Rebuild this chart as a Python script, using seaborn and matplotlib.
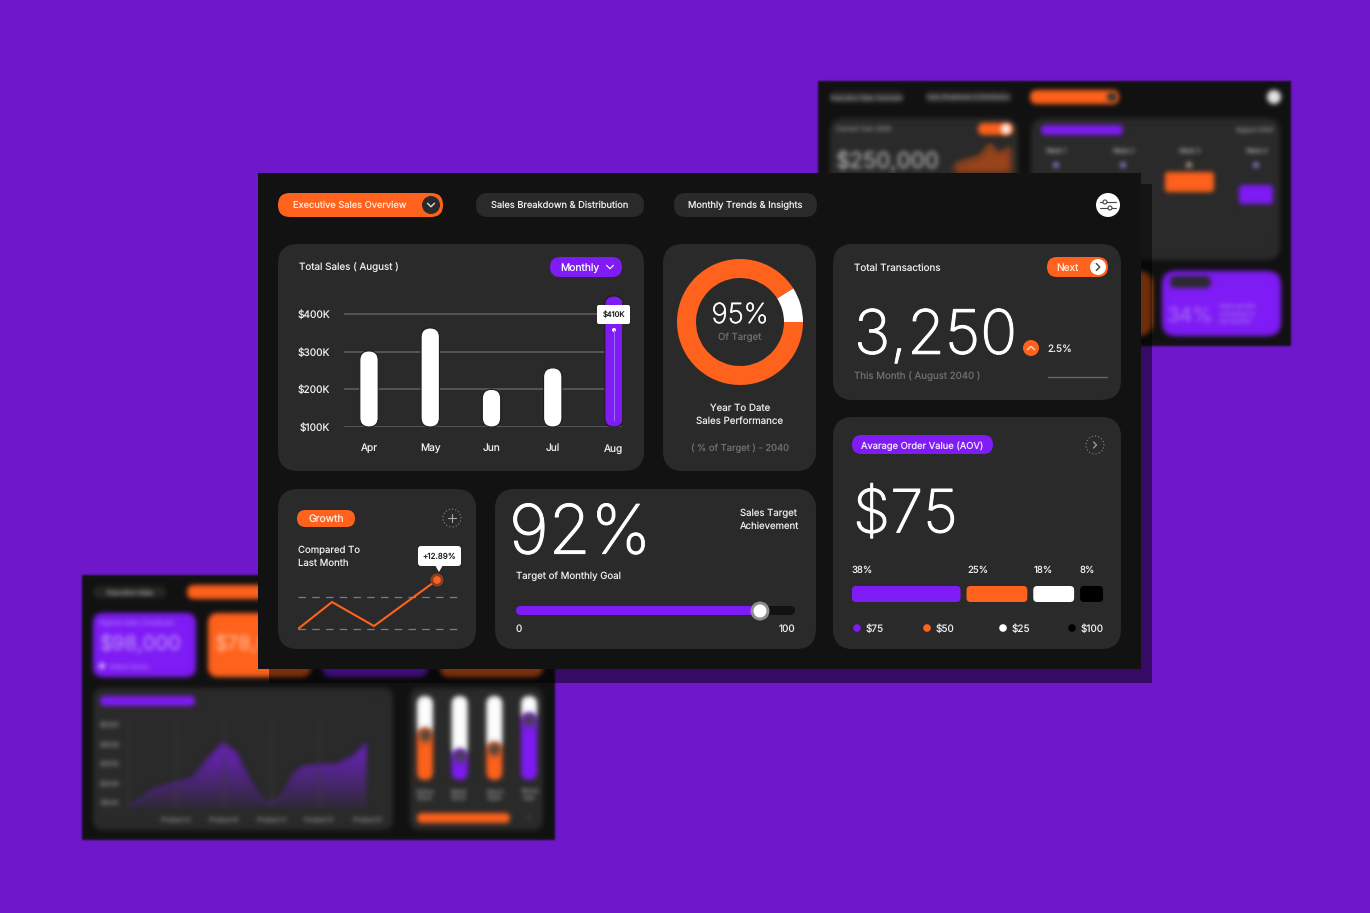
import numpy as np
import matplotlib
matplotlib.use("Agg")
import matplotlib.pyplot as plt
import matplotlib.patheffects as pe
import seaborn as sns
from matplotlib.patches import Circle, FancyBboxPatch, Polygon, Rectangle

W, H = 1370, 913

BG = "#6f18cb"
PANEL = "#121212"
CARD = "#2a2a2a"
ORANGE = "#ff621c"
PURPLE = "#7f1bf5"
LIGHT = "#ececec"
GREY = "#6f6f6f"

# total sales card
months = ["Apr", "May", "Jun", "Jul", "Aug"]
sales_k = [302, 363, 200, 257, 448]
sales_ticks = [100, 200, 300, 400]
sales_tick_labels = ["$100K", "$200K", "$300K", "$400K"]

# year to date donut
donut_values = [9, 91]

# growth card
growth_x = [0, 34, 76, 139]
growth_y = [0, 8.4, 0.9, 15.3]

# monthly goal slider
goal_value = [87.5]

# average order value card
aov_labels = ["38%", "25%", "18%", "8%"]
aov_lengths = [109, 61, 41, 23]
aov_legend = ["$75", "$50", "$25", "$100"]
aov_colors = [PURPLE, ORANGE, "#ffffff", "#000000"]

# blurred panel, lower left
product_x = [0.04, 0.53, 0.97, 1.37, 1.65, 1.99, 2.27, 2.55, 2.80, 2.99, 3.25, 3.46, 3.67, 3.99, 4.37, 4.71, 4.99]
product_y = [81, 167, 201, 227, 320, 406, 355, 209, 115, 93, 141, 244, 286, 295, 298, 337, 406]
product_labels = ["", "Product A", "Product B", "Product C", "Product D", "Product E"]
product_ticks = [100, 200, 300, 400, 500]
slider_names = ["Q1", "Q2", "Q3", "Q4"]
slider_values = [62, 37, 45, 80]
slider_rest = [46, 71, 63, 28]
slider_colors = [ORANGE, PURPLE, ORANGE, PURPLE]

# blurred panel, upper right
trend_x = [0.08, 1.3, 2.2, 3.05, 3.7, 4.75]
trend_y = [6, 10.4, 13, 23.4, 14.7, 20.8]

sns.set_theme(style="dark")
plt.rcParams["font.family"] = ["Inter", "DejaVu Sans"]
plt.rcParams["text.hinting"] = "no_hinting"
plt.rcParams["text.hinting_factor"] = 1

fig = plt.figure(figsize=(W / 100, H / 100), dpi=100, facecolor=BG)


def pixel_axes(z):
    ax = fig.add_axes([0, 0, 1, 1], facecolor="none", zorder=z)
    ax.set_xlim(0, W)
    ax.set_ylim(H, 0)
    ax.set_axis_off()
    return ax


def inset(x0, y0, x1, y1, z):
    ax = fig.add_axes([x0 / W, 1 - y1 / H, (x1 - x0) / W, (y1 - y0) / H], facecolor="none", zorder=z)
    return ax


def gauss_blur(sigma):
    pad = int(3 * sigma) + 1
    offsets = np.arange(-pad, pad + 1)
    weights = np.exp(-0.5 * (offsets / sigma) ** 2)
    weights = weights / weights.sum()

    def run(img, dpi):
        out = np.pad(img, ((pad, pad), (pad, pad), (0, 0)))
        alpha = out[..., 3:4]
        out = np.concatenate([out[..., :3] * alpha, alpha], axis=2)
        for axis in (0, 1):
            out = sum(w * np.roll(out, o, axis=axis) for o, w in zip(offsets, weights))
        alpha = np.maximum(out[..., 3:4], 1e-4)
        out = np.concatenate([out[..., :3] / alpha, out[..., 3:4]], axis=2)
        return np.clip(out, 0, 1), -pad, -pad

    return run


BLUR = gauss_blur(2.4)
SOFT = gauss_blur(1.0)
THICK = [pe.withStroke(linewidth=0.7, foreground="#ffffff")]


def box(ax, x0, y0, x1, y1, r, color, blur=None, **kw):
    p = FancyBboxPatch((x0, y0), x1 - x0, y1 - y0, boxstyle=f"round,pad=0,rounding_size={r}",
                       facecolor=color, edgecolor="none", **kw)
    if blur:
        p.set_agg_filter(blur)
    ax.add_patch(p)
    return p


def dot(ax, x, y, r, color, blur=None, **kw):
    c = Circle((x, y), r, facecolor=color, edgecolor=kw.pop("edgecolor", "none"), **kw)
    if blur:
        c.set_agg_filter(blur)
    ax.add_patch(c)
    return c


def txt(ax, x, y, s, size, color=LIGHT, ha="left", va="center", blur=None, **kw):
    t = ax.text(x, y + 0.8, s, fontsize=size, color=color, ha=ha, va=va, **kw)
    if blur:
        t.set_agg_filter(blur)
    return t


def chevron(ax, x, y, size, color, kind="right", lw=1.0):
    if kind == "right":
        xs, ys = [x - size / 2, x + size / 2, x - size / 2], [y - size, y, y + size]
    elif kind == "down":
        xs, ys = [x - size, x, x + size], [y - size / 2, y + size / 2, y - size / 2]
    else:
        xs, ys = [x - size, x, x + size], [y + size / 2, y - size / 2, y + size / 2]
    ax.plot(xs, ys, color=color, lw=lw, solid_capstyle="round")


def round_bars(ax, radius_px, edge="none", blur=None):
    # swap the flat bars seaborn drew for rounded ones in the same data coords
    x0, x1 = ax.get_xlim()
    y0, y1 = ax.get_ylim()
    box_px = ax.get_window_extent()
    xpp = abs(x1 - x0) / box_px.width
    ypp = abs(y1 - y0) / box_px.height
    for bar in list(ax.patches):
        if not isinstance(bar, Rectangle):
            continue
        bx, by, bw, bh = bar.get_x(), max(bar.get_y(), min(y0, y1)), bar.get_width(), bar.get_height()
        bh = bar.get_y() + bh - by
        p = FancyBboxPatch((bx, by), bw, bh, boxstyle=f"round,pad=0,rounding_size={radius_px * xpp}",
                           mutation_aspect=ypp / xpp, facecolor=bar.get_facecolor(), edgecolor=edge,
                           linewidth=0.8, zorder=bar.get_zorder() + 1)
        if blur:
            p.set_agg_filter(blur)
        ax.add_patch(p)
        bar.set_visible(False)


page = pixel_axes(0)
main = pixel_axes(2)
over = pixel_axes(4)

# ---- blurred panel, upper right
page.add_patch(Rectangle((818, 81), 473, 265, facecolor=PANEL, edgecolor="none", agg_filter=SOFT))
box(page, 830, 91, 904, 103, 6, "#262626", BLUR)
box(page, 925, 91, 1012, 103, 6, "#262626", BLUR)
txt(page, 867, 97, "Executive Sales Overview", 4.2, "#a5a5a5", ha="center", blur=BLUR)
txt(page, 968, 97, "Sales Breakdown & Distribution", 4.0, "#a5a5a5", ha="center", blur=BLUR)
box(page, 1030, 90, 1119, 104, 7, ORANGE, BLUR)
dot(page, 1112, 97, 5, "#333333", BLUR)
dot(page, 1274, 97, 7, "#e8e8e8", BLUR)
box(page, 830, 118, 1018, 265, 14, CARD, BLUR)
box(page, 1031, 118, 1280, 260, 14, CARD, BLUR)
txt(page, 836, 129, "Current Year 2040", 4.5, "#8f8f8f", blur=BLUR)
box(page, 978, 123, 1013, 135, 6, ORANGE, BLUR)
dot(page, 1006, 129, 5, "#f4f4f4", BLUR)
txt(page, 836, 161, "$250,000", 16, "#c4c4c4", blur=BLUR)
box(page, 1041, 125, 1123, 135, 5, PURPLE, BLUR)
txt(page, 1235, 130, "August 2040", 4.5, "#8f8f8f", blur=BLUR)
for i, wx in enumerate([1056, 1123, 1189, 1256]):
    txt(page, wx, 151, f"Week {i + 1}", 4.5, "#a5a5a5", ha="center", blur=BLUR)
    page.plot([wx, wx], [168, 262], color="#3a3a3a", lw=1, agg_filter=SOFT, zorder=0.5)
    dot(page, wx, 165, 3, "#8f76c9" if i != 2 else "#b59a8a", BLUR)
box(page, 1165, 172, 1214, 192, 3, ORANGE, BLUR, zorder=1.5)
box(page, 1239, 185, 1273, 204, 3, PURPLE, BLUR, zorder=1.5)
box(page, 1040, 271, 1152, 336, 14, "#e05d18", BLUR)
box(page, 1162, 271, 1281, 336, 14, PURPLE, BLUR)
box(page, 1170, 276, 1211, 288, 6, "#2a2a2a", BLUR)
txt(page, 1167, 315, "34%", 15, "#a872f5", blur=BLUR)
txt(page, 1219, 313, "Sales growth\ncompared to\nlast quarter", 4.3, "#a070ee", blur=BLUR)

ax_trend = inset(954, 135, 1013, 172, 1)
sns.lineplot(x=trend_x, y=trend_y, ax=ax_trend, color="#b84f1a", lw=1, errorbar=None)
ax_trend.fill_between(trend_x, trend_y, 0, color="#a8481a", alpha=0.9, agg_filter=BLUR)
ax_trend.set_xlim(0, 5)
ax_trend.set_ylim(0, 32)
ax_trend.set_axis_off()
for child in ax_trend.lines:
    child.set_agg_filter(BLUR)

# ---- blurred panel, lower left
page.add_patch(Rectangle((82, 575), 473, 265, facecolor=PANEL, edgecolor="none", agg_filter=SOFT))
box(page, 93, 586, 166, 598, 6, "#262626", BLUR)
txt(page, 130, 592, "Executive Sales", 4.5, "#a5a5a5", ha="center", blur=BLUR)
box(page, 187, 585, 300, 599, 7, ORANGE, BLUR)
for cx0, cx1, col in [(93, 196, PURPLE), (208, 311, ORANGE), (322, 428, PURPLE), (440, 543, ORANGE)]:
    box(page, cx0, 613, cx1, 677, 10, col, BLUR)
txt(page, 100, 644, "$98,000", 14.5, "#c09cf8", blur=BLUR)
txt(page, 215, 644, "$78,000", 14.5, "#ffc2a0", blur=BLUR)
txt(page, 99, 622, "Highest Sales Contributor", 4.5, "#a872f5", blur=BLUR)
txt(page, 109, 666, "Online Stores", 4.5, "#a872f5", blur=BLUR)
dot(page, 102, 666, 3, "#d9c2fb", BLUR)
box(page, 93, 688, 393, 830, 10, CARD, BLUR)
box(page, 410, 688, 543, 830, 10, CARD, BLUR)
box(page, 100, 696, 195, 706, 5, PURPLE, BLUR)
box(page, 417, 813, 510, 823, 5, ORANGE, BLUR)
dot(page, 529, 818, 4, "#333333", BLUR)

ax_prod = inset(128, 722, 367, 810, 1)
sns.lineplot(x=product_x, y=product_y, ax=ax_prod, color="#5a1fa8", lw=1, errorbar=None, sort=False)
ax_prod.set_xlim(0, 5)
ax_prod.set_ylim(64, 515)
ax_prod.set_xticks([0, 1, 2, 3, 4, 5], product_labels)
ax_prod.set_yticks(product_ticks, [f"${v}K" for v in product_ticks])
ax_prod.set_xlabel("")
ax_prod.set_ylabel("")
ax_prod.xaxis.grid(True, color="#3c3c3c", lw=1)
ax_prod.yaxis.grid(False)
ax_prod.tick_params(length=0, labelsize=4.5, colors="#8a8a8a", pad=6)
ax_prod.xaxis.set_agg_filter(BLUR)
ax_prod.yaxis.set_agg_filter(BLUR)
sns.despine(ax=ax_prod, left=True, bottom=True)
fill = ax_prod.fill_between(product_x, product_y, 75, color="none")
grad = np.zeros((64, 2, 4))
grad[..., :3] = matplotlib.colors.to_rgb("#7a22e0")
grad[..., 3] = np.linspace(0.9, 0.08, 64)[:, None]
im = ax_prod.imshow(grad, extent=(0, 5, 75, 420), aspect="auto", origin="upper")
im.set_clip_path(fill.get_paths()[0], ax_prod.transData)
im.set_agg_filter(BLUR)
ax_prod.set_xlim(0, 5)
ax_prod.set_ylim(64, 515)
for child in ax_prod.lines:
    child.set_agg_filter(BLUR)

ax_slide = inset(410, 696, 543, 780, 1)
sns.barplot(x=slider_names, y=slider_rest, bottom=[100 - v for v in slider_rest], ax=ax_slide, color="#ffffff",
            width=0.46, saturation=1)
sns.barplot(x=slider_names, y=slider_values, ax=ax_slide, hue=slider_names, palette=slider_colors,
            width=0.46, saturation=1, legend=False, dodge=False)
ax_slide.set_xlim(-0.43, 3.4)
ax_slide.set_ylim(0, 100)
ax_slide.set_axis_off()
round_bars(ax_slide, 8, blur=BLUR)
for sx, sv in zip([0, 1, 2, 3], slider_values):
    ax_slide.scatter([sx], [sv - 8], s=70, color="#444444", zorder=6, agg_filter=BLUR)
for sx, lab in zip([425, 459, 495, 529], ["Online\nStore", "Retail\nStore", "Direct\nSales", "Whole\nSale"]):
    txt(page, sx, 795, lab, 4.5, "#888888", ha="center", blur=BLUR)

# ---- main dashboard
main.add_patch(Rectangle((269, 184), 883, 499, facecolor="#000000", alpha=0.5, edgecolor="none"))
main.add_patch(Rectangle((258, 173), 883, 496, facecolor=PANEL, edgecolor="none"))

box(main, 278, 193, 443, 217, 12, ORANGE)
txt(main, 293, 205, "Executive Sales Overview", 6.7, "#ffe6da")
dot(main, 431, 205, 9, "#2a2a2a")
chevron(main, 431, 205, 3.5, "#dddddd", "down")
box(main, 476, 193, 644, 217, 12, CARD)
txt(main, 560, 205, "Sales Breakdown & Distribution", 6.7, ha="center")
box(main, 674, 193, 817, 217, 12, CARD)
txt(main, 745, 205, "Monthly Trends & Insights", 6.7, ha="center")
dot(main, 1108, 205, 12, "#ffffff")
main.plot([1100, 1116], [202, 202], color="#444444", lw=0.8)
main.plot([1100, 1116], [208, 208], color="#444444", lw=0.8)
dot(main, 1105, 202, 2, "#ffffff", edgecolor="#444444", linewidth=0.8, zorder=5)
dot(main, 1110, 208, 2, "#ffffff", edgecolor="#444444", linewidth=0.8, zorder=5)

box(main, 278, 244, 644, 471, 20, CARD)
box(main, 663, 244, 816, 471, 20, CARD)
box(main, 833, 244, 1121, 400, 20, CARD)
box(main, 833, 417, 1121, 649, 20, CARD)
box(main, 278, 489, 476, 649, 20, CARD)
box(main, 495, 489, 816, 649, 20, CARD)

# total sales
txt(main, 299, 267, "Total Sales ( August )", 7.1)
box(main, 550, 257, 622, 277, 10, PURPLE)
txt(main, 560, 267, "Monthly", 7.4, "#ffffff")
chevron(main, 610, 267, 3.5, "#ffffff", "down", lw=0.8)

ax_sales = inset(344, 290, 622, 427, 3)
sns.barplot(x=months, y=sales_k, hue=months, palette=["#ffffff"] * 4 + [PURPLE], ax=ax_sales,
            width=0.30, saturation=1, legend=False, dodge=False)
ax_sales.set_xlim(-25 / 61.25, 253 / 61.25)
ax_sales.set_ylim(100, 100 + 137 * 300 / 113)
ax_sales.set_yticks(sales_ticks, sales_tick_labels)
ax_sales.set_xlabel("")
ax_sales.set_ylabel("")
ax_sales.yaxis.grid(True, color="#5c5c5c", lw=1.2)
ax_sales.xaxis.grid(False)
ax_sales.set_axisbelow(True)
ax_sales.tick_params(length=0, labelsize=7.3, labelcolor=LIGHT)
ax_sales.tick_params(axis="x", pad=12)
ax_sales.tick_params(axis="y", pad=10)
sns.despine(ax=ax_sales, left=True, bottom=True)
round_bars(ax_sales, 9.2, edge="#1c1c1c")

over.plot([614, 614], [330, 420], color="#a066f8", lw=0.8)
dot(over, 614, 330, 2, "#ffffff")
box(over, 597, 305, 630, 324, 2, "#ffffff")
txt(over, 613.5, 314.5, "$410K", 5.4, "#222222", ha="center")

# donut
ax_donut = inset(670, 252, 810, 392, 3)
ax_donut.pie(donut_values, colors=["#ffffff", ORANGE], startangle=0, radius=63 / 70,
             wedgeprops={"width": 19 / 70, "edgecolor": "none"})
ax_donut.set_xlim(-1, 1)
ax_donut.set_ylim(-1, 1)
txt(main, 740, 315, "95%", 20, "#ffffff", ha="center", weight="light", path_effects=[pe.withStroke(linewidth=0.4, foreground="#ffffff")])
txt(main, 740, 336, "Of Target", 6.9, GREY, ha="center")
txt(main, 740, 414, "Year To Date\nSales Performance", 7, ha="center", linespacing=1.4)
txt(main, 740, 447, "( % of Target ) - 2040", 6.75, GREY, ha="center")

# transactions
txt(main, 854, 267, "Total Transactions", 7.1)
box(main, 1047, 257, 1108, 277, 10, ORANGE)
txt(main, 1056, 267, "Next", 7.3, "#ffeadf")
dot(main, 1098, 267, 8, "#ffffff")
chevron(main, 1098, 267, 3.5, "#444444", "right")
txt(main, 854, 337, "3,250", 44, "#ffffff", weight="light", path_effects=THICK)
dot(main, 1031, 348, 8, ORANGE)
chevron(main, 1031, 348, 3.5, "#ffd9c5", "up")
txt(main, 1047, 348, "2.5%", 7.2)
txt(main, 854, 375, "This Month ( August 2040 )", 7, GREY)
main.plot([1048, 1107], [377, 377], color="#666666", lw=1)

# aov
box(main, 852, 435, 993, 454, 9.5, PURPLE)
txt(main, 922, 445, "Avarage Order Value (AOV)", 6.75, "#f2e8ff", ha="center")
dot(main, 1095, 445, 9, "none", edgecolor="#8a8a8a", linewidth=0.8, linestyle=(0, (1, 2)))
chevron(main, 1095, 445, 3, "#9a9a9a", "right")
txt(main, 853, 516, "$75", 43, "#ffffff", weight="light", path_effects=THICK)

ax_aov = inset(852, 586, 1103, 602, 3)
left = 0
for length, color in zip(aov_lengths, aov_colors):
    sns.barplot(x=[length], y=[""], left=[left], color=color, ax=ax_aov, width=1, saturation=1, orient="h")
    left += length + 6
ax_aov.set_xlim(0, 252)
ax_aov.set_ylim(0.5, -0.5)
ax_aov.set_axis_off()
round_bars(ax_aov, 4)
for lx, lab in zip([852, 967, 1034, 1080], aov_labels):
    txt(main, lx, 569, lab, 6.9)
for dx, lab, color in zip([857, 927, 1003, 1072], aov_legend, aov_colors):
    dot(main, dx, 628, 3.8, color)
    txt(main, dx + 8.5, 628, lab, 7.2)

# growth
box(main, 297, 510, 355, 527, 8.5, ORANGE)
txt(main, 326, 518, "Growth", 7.4, "#ffeadf", ha="center")
dot(main, 452, 518, 9, "none", edgecolor="#8a8a8a", linewidth=0.8, linestyle=(0, (1, 2)))
main.plot([448, 456], [518, 518], color="#aaaaaa", lw=0.8)
main.plot([452, 452], [514, 522], color="#aaaaaa", lw=0.8)
txt(main, 298, 556, "Compared To\nLast Month", 6.9, linespacing=1.4)

ax_growth = inset(298, 570, 459, 635, 3)
sns.lineplot(x=growth_x, y=growth_y, ax=ax_growth, color=ORANGE, lw=1.5, errorbar=None)
ax_growth.axhline(0, color="#7d7d7d", lw=0.9, ls=(0, (6, 5)), zorder=1)
ax_growth.axhline(10, color="#7d7d7d", lw=0.9, ls=(0, (6, 5)), zorder=1)
ax_growth.set_xlim(0, 161)
ax_growth.set_ylim(-1.9, 18.4)
ax_growth.set_axis_off()
dot(over, 437, 580, 6.5, "#8a4020")
dot(over, 437, 580, 3.8, ORANGE)
box(over, 418, 546, 461, 566, 3, "#ffffff")
over.add_patch(Polygon([[435, 565], [443, 565], [439, 572]], facecolor="#ffffff", edgecolor="none"))
txt(over, 439.5, 555.5, "+12.89%", 5.8, "#222222", ha="center")

# monthly goal
txt(main, 509, 535, "92%", 49, "#ffffff", weight="light", path_effects=THICK)
txt(main, 516, 575, "Target of Monthly Goal", 6.95)
txt(main, 740, 519, "Sales Target\nAchievement", 6.9, linespacing=1.4)

ax_goal = inset(516, 606, 795, 615, 3)
sns.barplot(x=[100], y=[""], color="#121212", ax=ax_goal, width=1, saturation=1, orient="h")
sns.barplot(x=goal_value, y=[""], color=PURPLE, ax=ax_goal, width=1, saturation=1, orient="h")
ax_goal.set_xlim(0, 100)
ax_goal.set_ylim(0.5, -0.5)
ax_goal.set_axis_off()
round_bars(ax_goal, 4.5)
dot(over, 760, 611, 9.5, "#8f8f8f")
dot(over, 760, 611, 6.5, "#ffffff")
txt(main, 516, 628, "0", 7.2)
txt(main, 795, 628, "100", 7.2, ha="right")

fig.savefig("out.png", dpi=100, facecolor=BG)
